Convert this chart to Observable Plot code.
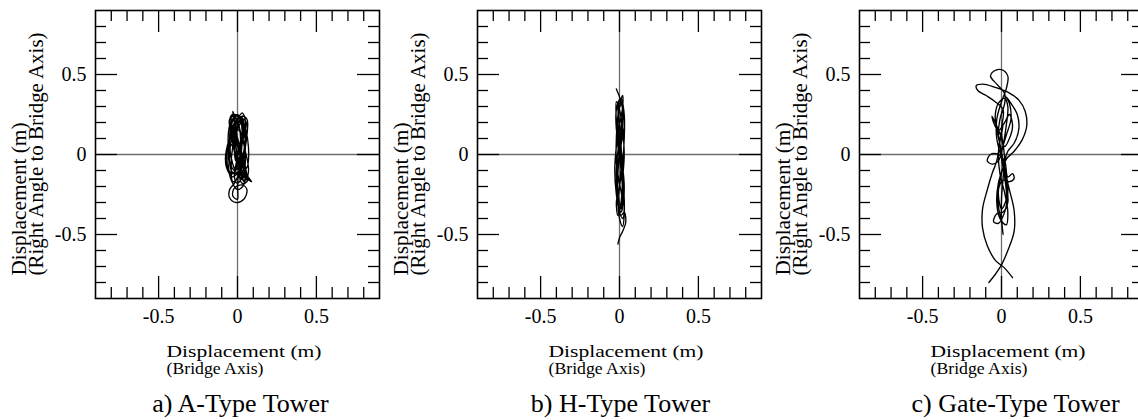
<!DOCTYPE html>
<html><head><meta charset="utf-8">
<script src="https://cdn.jsdelivr.net/npm/d3@7"></script>
<script src="https://cdn.jsdelivr.net/npm/@observablehq/plot@0.6"></script>
<style>
body{margin:0;background:#fff;overflow:hidden;}
#row{display:flex;width:1146px;}
#row svg{font-family:"Liberation Serif","Times New Roman",serif;overflow:visible;}
</style></head><body><div id="row"></div>
<script>
const panelTitles = ["a) A-Type Tower", "b) H-Type Tower", "c) Gate-Type Tower"];
const xLabelLines = ["Displacement (m)", "(Bridge Axis)"];
const yLabelLines = ["Displacement (m)", "(Right Angle to Bridge Axis)"];
const axisDomain = [-0.9, 0.9];
const majorTicks = [-0.5, 0, 0.5];
const majorTickLabels = ["-0.5", "0", "0.5"];
const minorTicks = [-0.8, -0.7, -0.6, -0.4, -0.3, -0.2, -0.1, 0.1, 0.2, 0.3, 0.4, 0.6, 0.7, 0.8];

// orbit of tower top: [bridge-axis displacement, right-angle displacement] (m)
const towerA = [
[0.00,0.00],[0.02,0.08],[0.04,0.17],[0.03,0.23],[-0.01,0.24],[-0.04,0.18],[-0.05,0.06],[-0.03,-0.06],[0.01,-0.14],[0.05,-0.16],
[0.07,-0.10],[0.05,0.02],[0.02,0.14],[-0.01,0.22],[-0.03,0.27],[-0.02,0.21],[0.00,0.10],[0.03,-0.02],[0.05,-0.12],[0.04,-0.19],
[0.00,-0.22],[-0.04,-0.16],[-0.06,-0.05],[-0.05,0.08],[-0.02,0.19],[0.03,0.24],[0.06,0.22],[0.06,0.12],[0.04,0.00],[0.01,-0.10],
[-0.03,-0.14],[-0.07,-0.08],[-0.07,0.03],[-0.04,0.10],[0.00,0.06],[0.03,-0.04],[0.06,-0.13],[0.09,-0.17],[0.06,-0.15],[0.02,-0.08],
[-0.01,0.04],[-0.03,0.16],[-0.04,0.23],[-0.02,0.25],[0.02,0.22],[0.05,0.14],[0.04,0.02],[0.02,-0.09],[-0.02,-0.18],[-0.05,-0.22],
[-0.05,-0.27],[-0.01,-0.30],[0.04,-0.28],[0.06,-0.22],[0.03,-0.19],[-0.02,-0.21],[-0.03,-0.26],[0.00,-0.28],[0.00,-0.20],[0.01,-0.08],
[0.02,0.06],[0.01,0.18],[-0.02,0.24],[-0.05,0.22],[-0.04,0.12],[-0.01,0.00],[0.03,-0.10],[0.06,-0.08],[0.07,0.04],[0.05,0.16],
[0.02,0.23],[-0.02,0.20],[-0.03,0.09],[-0.01,-0.03],[0.02,-0.13],[0.04,-0.17],[0.02,-0.11],[0.00,0.00],[-0.02,0.12],[0.00,0.20],
[0.04,0.18],[0.05,0.08],[0.03,-0.05],[-0.01,-0.12],[-0.04,-0.10],[-0.05,0.00],[-0.03,0.13],[0.00,0.22],[0.03,0.26],[0.05,0.21],
[0.03,0.10],[0.00,-0.02],[-0.02,-0.14],[0.00,-0.18],[0.04,-0.12],[0.05,-0.02],[0.04,0.08],[0.01,0.15],[-0.03,0.17],[-0.05,0.10],
[-0.04,-0.02],[-0.01,-0.11],[0.03,-0.15],[0.05,-0.11],[0.03,0.00],[0.00,0.05],[-0.03,0.14],[-0.05,0.21],[-0.03,0.25],[0.01,0.23],
[0.04,0.15],[0.05,0.04],[0.03,-0.07],[0.00,-0.15],[-0.03,-0.17],[-0.04,-0.08],[-0.03,0.05],[0.00,0.16],[0.04,0.22],[0.06,0.18],
[0.05,0.06],[0.02,-0.06],[-0.02,-0.10],[-0.05,-0.04],[-0.06,0.08],[-0.05,0.18],[-0.02,0.23],[0.02,0.20],[0.03,0.10],[0.02,-0.02],
[0.01,-0.12],[0.03,-0.18],[0.06,-0.17],[0.05,-0.08],[0.02,0.04],[-0.01,0.14],[-0.02,0.22],[0.00,0.25],[0.03,0.19],[0.03,0.07],
[0.00,-0.06],[-0.03,-0.12],[-0.06,-0.09],[-0.07,-0.01],[-0.05,0.07],[-0.02,0.03],[0.01,-0.07],[0.04,-0.14],[0.07,-0.16],[0.04,-0.10],
[0.01,0.02],[-0.01,0.12],[0.01,0.21],[0.04,0.24],[0.05,0.16],[0.02,0.05],[-0.01,-0.04],[-0.02,0.06],[-0.01,0.17],[-0.03,0.22],
[-0.04,0.14],[-0.02,0.02]
];
const towerB = [
[-0.02,0.41],[0.00,0.36],[0.02,0.28],[0.01,0.15],[-0.01,0.02],[-0.02,-0.12],[-0.01,-0.25],[0.01,-0.33],[0.02,-0.25],[0.02,-0.10],
[0.01,0.05],[0.00,0.20],[-0.01,0.32],[0.01,0.35],[0.03,0.25],[0.03,0.10],[0.02,-0.05],[0.00,-0.20],[-0.02,-0.30],[-0.01,-0.38],
[0.01,-0.30],[0.02,-0.15],[0.03,0.00],[0.02,0.15],[0.00,0.28],[-0.02,0.33],[-0.02,0.20],[-0.01,0.05],[0.01,-0.10],[0.02,-0.22],
[0.03,-0.32],[0.02,-0.40],[0.00,-0.36],[-0.02,-0.25],[-0.03,-0.10],[-0.02,0.05],[0.00,0.18],[0.02,0.30],[0.02,0.37],[0.00,0.30],
[-0.01,0.15],[0.00,0.00],[0.02,-0.12],[0.03,-0.28],[0.03,-0.38],[0.02,-0.45],[0.00,-0.40],[-0.01,-0.28],[-0.01,-0.12],[0.00,0.02],
[0.01,0.16],[0.02,0.26],[0.01,0.31],[-0.01,0.24],[-0.02,0.10],[-0.02,-0.05],[0.00,-0.18],[0.02,-0.30],[0.01,-0.36],[-0.01,-0.30],
[-0.02,-0.18],[-0.01,-0.06],[0.01,0.08],[0.02,0.20],[0.02,0.30],[0.00,0.34],[-0.02,0.28],[-0.02,0.16],[0.00,0.04],[0.02,-0.08],
[0.03,-0.20],[0.02,-0.32],[0.00,-0.34],[-0.02,-0.22],[-0.01,-0.08],[0.01,0.06],[0.03,0.18],[0.02,0.29],[0.00,0.33],[-0.01,0.22],
[0.00,0.08],[0.01,-0.06],[0.00,-0.20],[-0.01,-0.30],[0.01,-0.38],[0.03,-0.36],[0.04,-0.42],[0.02,-0.48],[0.00,-0.52],[-0.01,-0.56]
];
const towerC = [
[-0.08,-0.80],[-0.04,-0.75],[0.00,-0.69],[0.04,-0.60],[0.08,-0.48],[0.08,-0.35],[0.05,-0.22],[0.02,-0.10],[0.00,0.02],[-0.02,0.12],
[-0.01,0.22],[0.02,0.32],[0.02,0.38],[-0.03,0.44],[-0.07,0.49],[-0.05,0.52],[0.00,0.53],[0.04,0.49],[0.03,0.41],[0.00,0.33],
[-0.03,0.22],[-0.03,0.10],[0.00,-0.02],[0.03,-0.12],[0.04,-0.24],[0.02,-0.36],[-0.02,-0.43],[-0.05,-0.42],[-0.03,-0.37],[0.01,-0.36],
[0.04,-0.30],[0.03,-0.18],[0.01,-0.06],[-0.01,0.06],[-0.03,0.16],[-0.04,0.24],[-0.02,0.32],[0.02,0.35],[0.04,0.30],[0.03,0.18],
[0.01,0.06],[-0.02,-0.04],[-0.06,-0.06],[-0.09,-0.04],[-0.07,0.00],[-0.02,0.00],[0.02,-0.04],[0.04,-0.14],[0.07,-0.12],[0.08,-0.15],
[0.05,-0.17],[0.01,-0.16],[-0.02,-0.22],[-0.02,-0.32],[0.00,-0.42],[0.01,-0.50],[0.00,-0.40],[0.00,-0.28],[0.01,-0.15],[0.02,-0.02],
[0.00,0.10],[-0.04,0.20],[-0.06,0.24],[-0.05,0.20],[-0.02,0.15],[0.02,0.20],[0.05,0.25],[0.07,0.18],[0.05,0.10],[0.02,0.05],
[0.00,0.15],[0.01,0.28],[-0.04,0.33],[-0.10,0.37],[-0.15,0.40],[-0.16,0.43],[-0.12,0.44],[-0.04,0.42],[0.04,0.39],[0.11,0.34],
[0.15,0.27],[0.16,0.18],[0.13,0.09],[0.08,0.02],[0.03,-0.03],[0.00,-0.12],[-0.02,-0.24],[0.00,-0.34],[0.03,-0.28],[0.02,-0.14],
[0.00,0.00],[0.03,0.12],[0.06,0.22],[0.05,0.32],[0.03,0.36],[0.06,0.32],[0.10,0.25],[0.11,0.16],[0.08,0.07],[0.04,0.02],
[0.01,-0.08],[-0.02,-0.18],[-0.03,-0.30],[-0.01,-0.40],[0.03,-0.44],[0.04,-0.36],[0.02,-0.24],[-0.01,-0.12],[-0.02,0.00],[-0.01,0.10],
[0.01,0.18],[-0.01,0.08],[-0.03,-0.04],[-0.06,-0.12],[-0.09,-0.22],[-0.12,-0.34],[-0.12,-0.46],[-0.09,-0.57],[-0.04,-0.66],[0.02,-0.71],
[0.07,-0.77]
];
const towers = [towerA, towerB, towerC];

const W = 382, H = 420, mL = 95, mR = 3, mT = 10, mB = 122;
const FW = W - mL - mR, FH = H - mT - mB;
const minorLen = 11, majorLen = 22;
const axisGray = "#6e6e6e";
const titleShift = [3, 1, 14];
// rendered widths (px) of the axis-title lines in the reference: y line 1, y line 2, x line 1, x line 2
const labelWidths = [153, 243, 155, 97];

function tickRules(values, len) {
  const s = {stroke: "#000", strokeWidth: 1.3};
  return [
    Plot.ruleX(values, {x: d => d, insetBottom: FH - len, ...s}),
    Plot.ruleX(values, {x: d => d, insetTop: FH - len, ...s}),
    Plot.ruleY(values, {y: d => d, insetRight: FW - len, ...s}),
    Plot.ruleY(values, {y: d => d, insetLeft: FW - len, ...s})
  ];
}

function label(text, opts) {
  return Plot.text([text], {fill: "#000", lineAnchor: "bottom", ...opts});
}

const row = document.getElementById("row");
towers.forEach((data, k) => {
  const chart = Plot.plot({
    width: W, height: H,
    marginLeft: mL, marginRight: mR, marginTop: mT, marginBottom: mB,
    style: {fontFamily: "Liberation Serif, Times New Roman, serif", color: "#000", background: "#fff"},
    x: {domain: axisDomain, label: null},
    y: {domain: axisDomain, label: null},
    marks: [
      Plot.ruleX([0], {stroke: axisGray, strokeWidth: 1.3}),
      Plot.ruleY([0], {stroke: axisGray, strokeWidth: 1.6}),
      ...tickRules(minorTicks, minorLen),
      ...tickRules(majorTicks, majorLen),
      Plot.line(data, {x: d => d[0], y: d => d[1], curve: "catmull-rom", stroke: "#000", strokeWidth: 1.35}),
      Plot.frame({stroke: "#000", strokeWidth: 1.6}),
      Plot.axisX(majorTicks, {tickSize: 0, tickPadding: 10, fontSize: 20, label: null,
        tickFormat: d => majorTickLabels[majorTicks.indexOf(d)]}),
      Plot.axisY(majorTicks, {tickSize: 0, tickPadding: 9, fontSize: 20, label: null,
        tickFormat: d => majorTickLabels[majorTicks.indexOf(d)]}),
      // y-axis title (rotated, two lines)
      label(yLabelLines[0], {frameAnchor: "bottom-left", rotate: -90, textAnchor: "start", fontSize: 20, dx: -70, dy: -23}),
      label(yLabelLines[1], {frameAnchor: "bottom-left", rotate: -90, textAnchor: "start", fontSize: 20, dx: -53, dy: -23}),
      // x-axis title (two lines)
      label(xLabelLines[0], {frameAnchor: "bottom", textAnchor: "start", fontSize: 17, dx: -71, dy: 58}),
      label(xLabelLines[1], {frameAnchor: "bottom", textAnchor: "start", fontSize: 17, dx: -71, dy: 75}),
      // panel caption
      label(panelTitles[k], {frameAnchor: "bottom", textAnchor: "middle", fontSize: 26, dx: titleShift[k], dy: 113})
    ]
  });
  row.appendChild(chart);
  // the reference letters its axis titles wider than Times: stretch those lines to its widths
  const texts = chart.querySelectorAll('g[aria-label="text"] text');
  texts.forEach((t, i) => {
    if (i < labelWidths.length) {
      t.setAttribute("textLength", labelWidths[i]);
      t.setAttribute("lengthAdjust", "spacingAndGlyphs");
    }
  });
});
</script>
</body></html>
